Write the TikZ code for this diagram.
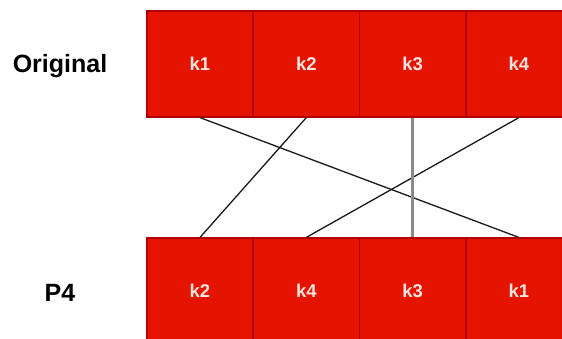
\documentclass[tikz,border=0pt]{standalone}
\usepackage{fontspec}
\setmainfont{Liberation Sans}
\definecolor{boxfill}{HTML}{E51400}
\definecolor{boxline}{HTML}{B20000}
\definecolor{keytext}{HTML}{FBE3DF}
\definecolor{grayline}{HTML}{8A8A8A}
\begin{document}
\begin{tikzpicture}[x=1pt,y=-1pt,
  keybox/.style={draw=boxline, fill=boxfill, line width=1.2pt, minimum width=106pt, minimum height=106pt, inner sep=0pt, text=keytext, font=\fontsize{18.5}{20}\selectfont\bfseries},
  rowlabel/.style={font=\fontsize{25}{28}\selectfont\bfseries, text=black},
  link/.style={draw=black!90, line width=1.3pt},
  glink/.style={draw=grayline, line width=3pt}]
\useasboundingbox (0,0) rectangle (562,338);
\node[keybox] (t1) at (200,64) {k1};
\node[keybox] (t2) at (306.3,64) {k2};
\node[keybox] (t3) at (412.6,64) {k3};
\node[keybox] (t4) at (518.9,64) {k4};
\node[keybox] (b2) at (200,291) {k2};
\node[keybox] (b4) at (306.3,291) {k4};
\node[keybox] (b3) at (412.6,291) {k3};
\node[keybox] (b1) at (518.9,291) {k1};
\node[rowlabel] (lo) at (60,66) {Original};
\node[rowlabel] (lp) at (60,293) {P4};
\draw[link] (t1.south) -- (b1.north);
\draw[link] (t2.south) -- (b2.north);
\draw[link] (t4.south) -- (b4.north);
\draw[glink] (t3.south) -- (b3.north);
\end{tikzpicture}
\end{document}
